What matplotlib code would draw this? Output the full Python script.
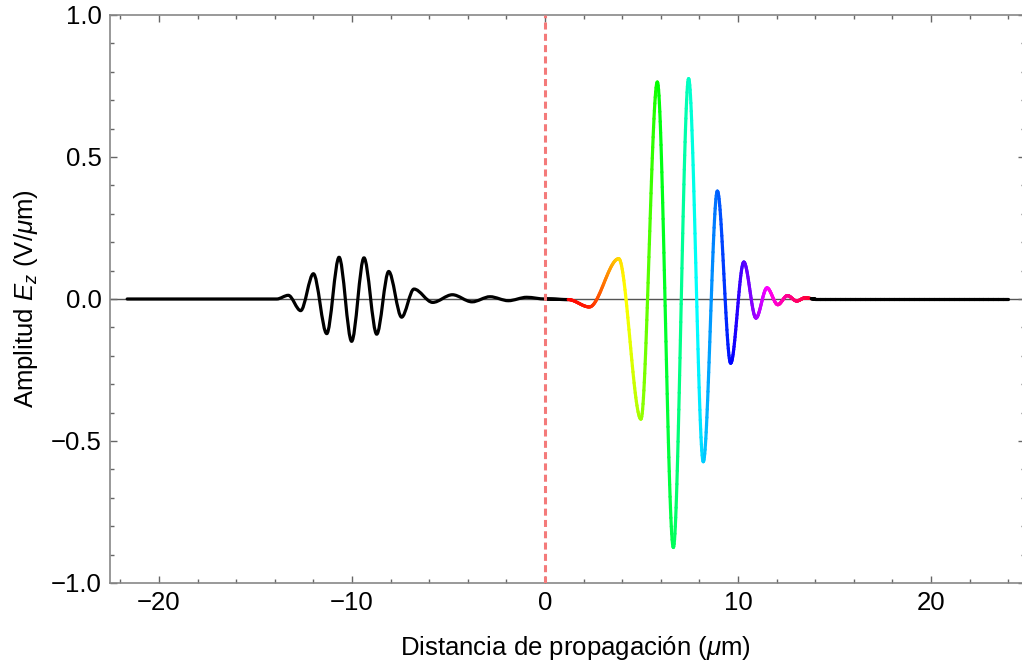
# Onda reflejada / transmitida

import numpy as np
import matplotlib
matplotlib.use('Agg')
import matplotlib.pyplot as plt
from matplotlib.path import Path
from matplotlib.patches import PathPatch
from matplotlib.collections import LineCollection
from matplotlib.colors import hsv_to_rgb

plt.rcParams['font.family'] = ['Liberation Sans', 'DejaVu Sans']
plt.rcParams['mathtext.fontset'] = 'custom'
plt.rcParams['mathtext.rm'] = 'Liberation Sans'
plt.rcParams['mathtext.it'] = 'Liberation Sans:italic'

# datos: extremos de cada paquete (x en um, Ez en V/um)
x_refl = [-21.65, -13.9, -13.3, -12.66, -12.0, -11.31, -10.67, -10.02, -9.38, -8.72,
          -8.10, -7.43, -6.79, -5.82, -4.80, -3.78, -2.85, -1.90, -0.95, 0.0]
y_refl = [0.0, 0.0, 0.013, -0.041, 0.089, -0.122, 0.147, -0.149, 0.145, -0.124,
          0.097, -0.064, 0.035, -0.012, 0.015, -0.010, 0.008, -0.006, 0.006, 0.0]

x_trans = [0.0, 1.2, 2.30, 3.82, 4.97, 5.82, 6.65, 7.44, 8.20, 8.93, 9.62, 10.30,
           10.93, 11.50, 12.06, 12.56, 13.04, 13.47, 14.0, 24.0]
y_trans = [0.0, -0.002, -0.028, 0.142, -0.423, 0.764, -0.875, 0.776, -0.573, 0.380,
           -0.226, 0.130, -0.067, 0.039, -0.020, 0.012, -0.007, 0.004, 0.0, 0.0]

x_ticks = [-20, -10, 0, 10, 20]
x_ticklabels = ['\u221220', '\u221210', '0', '10', '20']
y_ticks = [-1.0, -0.5, 0.0, 0.5, 1.0]
y_ticklabels = ['\u22121.0', '\u22120.5', '0.0', '0.5', '1.0']

# tramo coloreado y tonos (Hue) a lo largo de x
color_x0, color_x1 = 1.2, 13.8
hue_x = [1.2, 2.3, 3.0, 3.82, 4.5, 4.97, 5.82, 6.65, 7.44, 8.2, 8.93, 9.62, 10.3, 10.93, 11.5, 12.5, 13.8]
hue_h = [0.0, 0.02, 0.07, 0.14, 0.19, 0.23, 0.33, 0.39, 0.46, 0.53, 0.60, 0.66, 0.72, 0.77, 0.83, 0.90, 0.97]


def bezier_path(xs, ys):
    # curva suave con tangente horizontal en cada extremo
    verts = [(xs[0], ys[0])]
    codes = [Path.MOVETO]
    for i in range(len(xs) - 1):
        dx = xs[i + 1] - xs[i]
        verts += [(xs[i] + dx / 3, ys[i]), (xs[i + 1] - dx / 3, ys[i + 1]), (xs[i + 1], ys[i + 1])]
        codes += [Path.CURVE4] * 3
    return Path(verts, codes)


fig = plt.figure(figsize=(10.22, 6.61), dpi=100)
ax = fig.add_axes([110 / 1022, 1 - 583 / 661, (1025 - 110) / 1022, (583 - 15) / 661])

ax.axhline(0, color='#555555', lw=1.0, zorder=1)
ax.axvline(0, color='#f47a7a', lw=2.2, dashes=(2.3, 1.4), zorder=4)

# onda reflejada (negro)
ax.add_patch(PathPatch(bezier_path(x_refl, y_refl), fill=False, ec='black', lw=2.3,
                       capstyle='round', joinstyle='round', zorder=3))

# onda transmitida (color segun x)
path_t = bezier_path(x_trans, y_trans)
pts = np.vstack([seg(np.linspace(0, 1, 40)) for seg, code in path_t.iter_bezier()
                 if code == Path.CURVE4])
segs = np.stack([pts[:-1], pts[1:]], axis=1)
xm = 0.5 * (pts[:-1, 0] + pts[1:, 0])
h = np.interp(xm, hue_x, hue_h)
cols = hsv_to_rgb(np.column_stack([h, np.ones_like(h), np.ones_like(h)]))
cols[(xm < color_x0) | (xm > color_x1)] = 0.0
lc = LineCollection(segs, colors=cols, linewidths=2.3, capstyle='round', zorder=3)
ax.add_collection(lc)

ax.set_xlim(-22.54, 24.87)
ax.set_ylim(-1.0, 1.0)
ax.set_xticks(x_ticks)
ax.set_xticklabels(x_ticklabels)
ax.set_yticks(y_ticks)
ax.set_yticklabels(y_ticklabels)
ax.set_xticks(np.arange(-22, 25, 2), minor=True)
ax.set_yticks(np.arange(-1.0, 1.01, 0.1), minor=True)
ax.tick_params(which='both', direction='in', top=True, right=True, colors='#666666',
               labelcolor='black', labelsize=18.5, width=1.0)
ax.tick_params(which='major', length=5, pad=6)
ax.tick_params(which='minor', length=3)
for s in ax.spines.values():
    s.set_color('#888888')
    s.set_linewidth(1.2)

ax.set_xlabel('Distancia de propagación ($\\mu$m)', fontsize=18.5)
ax.set_ylabel('Amplitud $E_z$ (V/$\\mu$m)', fontsize=18.5)
ax.xaxis.set_label_coords(0.509, -0.09)
ax.yaxis.set_label_coords(-0.077, 0.5)

fig.savefig('out.png', dpi=100)
